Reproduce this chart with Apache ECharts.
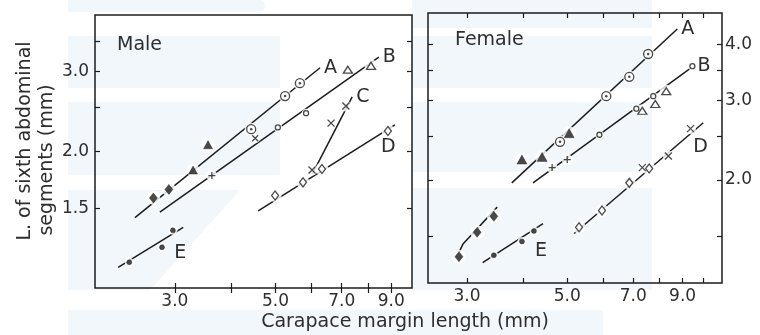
<!DOCTYPE html>
<html>
<head>
<meta charset="utf-8">
<script src="https://cdn.jsdelivr.net/npm/echarts@6/dist/echarts.min.js"></script>
<style>
  html, body { margin: 0; padding: 0; background: #fff; }
  #chart { width: 760px; height: 335px; }
</style>
</head>
<body>
<div id="chart"></div>
<script>
// ---- Tick positions and labels (mm) ----
const maleXTicks = [3, 4, 5, 6, 7, 8, 9];
const maleXLabels = [3, 5, 7, 9];
const maleYTicks = [1.5, 2, 2.5, 3, 3.5];
const maleYLabels = [1.5, 2, 3];
const femaleXTicks = [3, 4, 5, 6, 7, 8, 9, 10];
const femaleXLabels = [3, 5, 7, 9];
const femaleYTicks = [1.5, 2, 2.5, 3, 3.5, 4];
const femaleYLabels = [2, 3, 4];

// ---- Male: [carapace margin length, sixth abdominal segment length] ----
const maleA_filledDiamond = [[2.69, 1.58], [2.91, 1.65]];
const maleA_filledTriangle = [[3.29, 1.82], [3.55, 2.07]];
const maleA_dotCircle = [[4.42, 2.24], [5.25, 2.65], [5.66, 2.83]];
const maleA_fit = [[2.45, 1.43], [6.27, 3.06]];

const maleB_plus = [[3.62, 1.77]];
const maleB_cross = [[4.51, 2.14]];
const maleB_openCircle = [[5.06, 2.26], [5.84, 2.43]];
const maleB_openTriangle = [[7.22, 3.03], [8.12, 3.09]];
const maleB_fit = [[2.78, 1.47], [8.45, 3.23]];

const maleC_cross = [[6.02, 1.82], [6.63, 2.31], [7.15, 2.52]];
const maleC_fit = [[6.04, 1.79], [7.38, 2.64]];

const maleD_openDiamond = [[4.99, 1.60], [5.75, 1.71], [6.33, 1.83], [8.85, 2.22]];
const maleD_fit = [[4.58, 1.48], [9.17, 2.29]];

const maleE_filledDot = [[2.38, 1.14], [2.81, 1.23], [2.97, 1.34]];
const maleE_fit = [[2.25, 1.11], [3.13, 1.36]];

// ---- Female ----
const femA_filledTriangle = [[3.97, 2.22], [4.40, 2.25], [5.05, 2.54]];
const femA_dotCircle = [[4.82, 2.43], [6.10, 3.07], [6.86, 3.39], [7.55, 3.81]];
const femA_fit = [[3.77, 1.97], [8.76, 4.33]];

const femB_plus = [[4.63, 2.13], [5.00, 2.22]];
const femB_openCircle = [[5.89, 2.52], [7.11, 2.88], [7.75, 3.07], [9.46, 3.58]];
const femB_openTriangle = [[7.33, 2.85], [7.83, 2.95], [8.28, 3.15]];
const femB_fit = [[4.20, 1.97], [9.51, 3.58]];

const femD_openDiamond = [[5.31, 1.57], [5.97, 1.71], [6.86, 1.97], [7.59, 2.12]];
const femD_cross = [[7.33, 2.13], [8.37, 2.26], [9.37, 2.60]];
const femD_fit = [[5.18, 1.52], [10.0, 2.68]];

const femE_filledDiamond = [[2.88, 1.35], [3.16, 1.53], [3.44, 1.66]];
const femE_diamondFit = [[2.88, 1.38], [2.94, 1.44], [3.50, 1.74]];
const femE_filledDot = [[3.44, 1.36], [3.97, 1.46], [4.22, 1.54]];
const femE_fit = [[3.25, 1.31], [4.42, 1.60]];

// ---- Drawing ----
const L = v => Math.log10(v);
const toLog = pts => pts.map(p => [L(p[0]), L(p[1])]);
const fmt = v => Math.pow(10, v).toFixed(1);

const INK = '#1c1c1c';
const TEXT = '#2e2e2e';
const FONT = 'DejaVu Sans';

const SYM = {
  plus: 'path://M0,4H8M4,0V8',
  cross: 'path://M0,0L8,8M8,0L0,8'
};

function xAxes(grid, min, max, ticks, labels) {
  const tickStyle = { show: true, inside: true, length: 5, lineStyle: { color: INK, width: 1.2 } };
  return [
    {
      type: 'value', gridIndex: grid, min: L(min), max: L(max), position: 'bottom',
      axisLine: { show: false }, splitLine: { show: false },
      axisTick: Object.assign({ customValues: ticks.map(L) }, tickStyle),
      axisLabel: { customValues: labels.map(L), formatter: fmt, color: TEXT,
                   fontFamily: FONT, fontSize: 17, margin: 5 }
    },
    {
      type: 'value', gridIndex: grid, min: L(min), max: L(max), position: 'top',
      axisLine: { show: false }, splitLine: { show: false },
      axisTick: Object.assign({ customValues: ticks.map(L) }, tickStyle),
      axisLabel: { show: false }
    }
  ];
}

function yAxes(grid, min, max, ticks, labels, labelSide) {
  const tickStyle = { show: true, inside: true, length: 5, lineStyle: { color: INK, width: 1.2 } };
  return ['left', 'right'].map(side => ({
    type: 'value', gridIndex: grid, min: L(min), max: L(max), position: side,
    axisLine: { show: false }, splitLine: { show: false },
    axisTick: Object.assign({ customValues: ticks.map(L) }, tickStyle),
    axisLabel: side === labelSide
      ? { customValues: labels.map(L), formatter: fmt, color: TEXT,
          fontFamily: FONT, fontSize: 17, margin: side === 'left' ? 6 : 3 }
      : { show: false }
  }));
}

const series = [];
// axis indices: male x 0, y 0 ; female x 2, y 2
function fit(panel, pts, label, labelOffset) {
  const ax = panel === 'm' ? 0 : 2;
  const s = {
    type: 'line', xAxisIndex: ax, yAxisIndex: ax, data: toLog(pts),
    showSymbol: false, symbol: 'none', silent: true, z: 2, animation: false,
    lineStyle: { color: INK, width: 1.5 }
  };
  if (label) {
    s.endLabel = { show: true, formatter: label, color: TEXT, fontFamily: FONT,
                   fontSize: 19, distance: 4, offset: labelOffset || [0, 0] };
  }
  series.push(s);
}
function marks(panel, pts, symbol, size, filled) {
  const ax = panel === 'm' ? 0 : 2;
  // white halo that breaks the fitted line around each mark
  series.push({
    type: 'scatter', xAxisIndex: ax, yAxisIndex: ax, data: toLog(pts),
    symbol: 'circle', symbolSize: (Array.isArray(size) ? Math.max(...size) : size) + 4,
    itemStyle: { color: '#fff' }, z: 3, silent: true, animation: false
  });
  series.push({
    type: 'scatter', xAxisIndex: ax, yAxisIndex: ax, data: toLog(pts),
    symbol: symbol, symbolSize: size, z: 4, silent: true, animation: false,
    itemStyle: filled
      ? { color: INK, borderColor: INK, borderWidth: 0.5 }
      : { color: '#fff', borderColor: INK, borderWidth: 1.3 }
  });
}
function dotCircle(panel, pts) {
  marks(panel, pts, 'circle', 9, false);
  const ax = panel === 'm' ? 0 : 2;
  series.push({
    type: 'scatter', xAxisIndex: ax, yAxisIndex: ax, data: toLog(pts),
    symbol: 'circle', symbolSize: 2.5, itemStyle: { color: INK }, z: 5,
    silent: true, animation: false
  });
}

// Male panel
fit('m', maleA_fit, 'A');
fit('m', maleB_fit, 'B');
fit('m', maleC_fit, 'C');
fit('m', maleD_fit, 'D', [-18, 22]);
fit('m', maleE_fit, 'E', [-13, 26]);
marks('m', maleA_filledDiamond, 'diamond', [8, 10], true);
marks('m', maleA_filledTriangle, 'triangle', [9, 8], true);
dotCircle('m', maleA_dotCircle);
marks('m', maleB_plus, SYM.plus, 7, false);
marks('m', maleB_cross, SYM.cross, 6, false);
marks('m', maleB_openCircle, 'circle', 5, false);
marks('m', maleB_openTriangle, 'triangle', [9, 7], false);
marks('m', maleC_cross, SYM.cross, 7, false);
marks('m', maleD_openDiamond, 'diamond', [7, 9], false);
marks('m', maleE_filledDot, 'circle', 5, true);

// Female panel
fit('f', femA_fit, 'A');
fit('f', femB_fit, 'B');
fit('f', femD_fit, 'D', [-14, 24]);
fit('f', femE_diamondFit);
fit('f', femE_fit, 'E', [-12, 28]);
marks('f', femA_filledTriangle, 'triangle', [10, 9], true);
dotCircle('f', femA_dotCircle);
marks('f', femB_plus, SYM.plus, 7, false);
marks('f', femB_openCircle, 'circle', 5, false);
marks('f', femB_openTriangle, 'triangle', [9, 7], false);
marks('f', femD_openDiamond, 'diamond', [7, 9], false);
marks('f', femD_cross, SYM.cross, 7, false);
marks('f', femE_filledDiamond, 'diamond', [8, 10], true);
marks('f', femE_filledDot, 'circle', 5, true);

// pale background wash
const WASH = '#f1f7fb';
const wash = [
  { type: 'rect', shape: { x: 68, y: 0, width: 197, height: 12, r: [0, 6, 6, 0] } },
  { type: 'rect', shape: { x: 68, y: 36, width: 212, height: 52 } },
  { type: 'polygon', shape: { points: [[68, 102], [280, 102], [280, 175], [68, 175]] } },
  { type: 'polygon', shape: { points: [[68, 190], [240, 190], [150, 290], [68, 290]] } },
  { type: 'rect', shape: { x: 412, y: 0, width: 240, height: 28 } },
  { type: 'rect', shape: { x: 412, y: 36, width: 240, height: 52 } },
  { type: 'rect', shape: { x: 412, y: 102, width: 240, height: 70 } },
  { type: 'rect', shape: { x: 412, y: 188, width: 240, height: 102 } },
  { type: 'rect', shape: { x: 68, y: 310, width: 535, height: 25 } }
].map(g => Object.assign(g, { z: -10, silent: true, style: { fill: WASH } }));

const titles = [
  { type: 'text', x: 117, y: 45, style: { text: 'Male', fill: TEXT, font: '19px "DejaVu Sans"',
    verticalAlign: 'middle', align: 'left' } },
  { type: 'text', x: 455, y: 40, style: { text: 'Female', fill: TEXT, font: '19px "DejaVu Sans"',
    verticalAlign: 'middle', align: 'left' } },
  { type: 'text', x: 405, y: 322, style: { text: 'Carapace margin length (mm)', fill: TEXT,
    font: '19px "DejaVu Sans"', align: 'center', verticalAlign: 'middle' } },
  { type: 'text', x: 25, y: 141, rotation: Math.PI / 2, style: { text: 'L. of sixth abdominal',
    fill: TEXT, font: '19px "DejaVu Sans"', align: 'center', verticalAlign: 'middle' } },
  { type: 'text', x: 47, y: 160, rotation: Math.PI / 2, style: { text: 'segments (mm)',
    fill: TEXT, font: '19px "DejaVu Sans"', align: 'center', verticalAlign: 'middle' } }
];

const chart = echarts.init(document.getElementById('chart'), null, { renderer: 'canvas' });
chart.setOption({
  animation: false,
  backgroundColor: '#fff',
  grid: [
    { left: 95, top: 15, width: 317, height: 273, show: true, borderColor: INK, borderWidth: 1.5 },
    { left: 428, top: 13, width: 294, height: 270, show: true, borderColor: INK, borderWidth: 1.5 }
  ],
  xAxis: [
    ...xAxes(0, 2, 10, maleXTicks, maleXLabels),
    ...xAxes(1, 2.46, 11.0, femaleXTicks, femaleXLabels)
  ],
  yAxis: [
    ...yAxes(0, 1, 4, maleYTicks, maleYLabels, 'left'),
    ...yAxes(1, 1.18, 4.7, femaleYTicks, femaleYLabels, 'right')
  ],
  graphic: [...wash, ...titles],
  series: series
});
</script>
</body>
</html>
